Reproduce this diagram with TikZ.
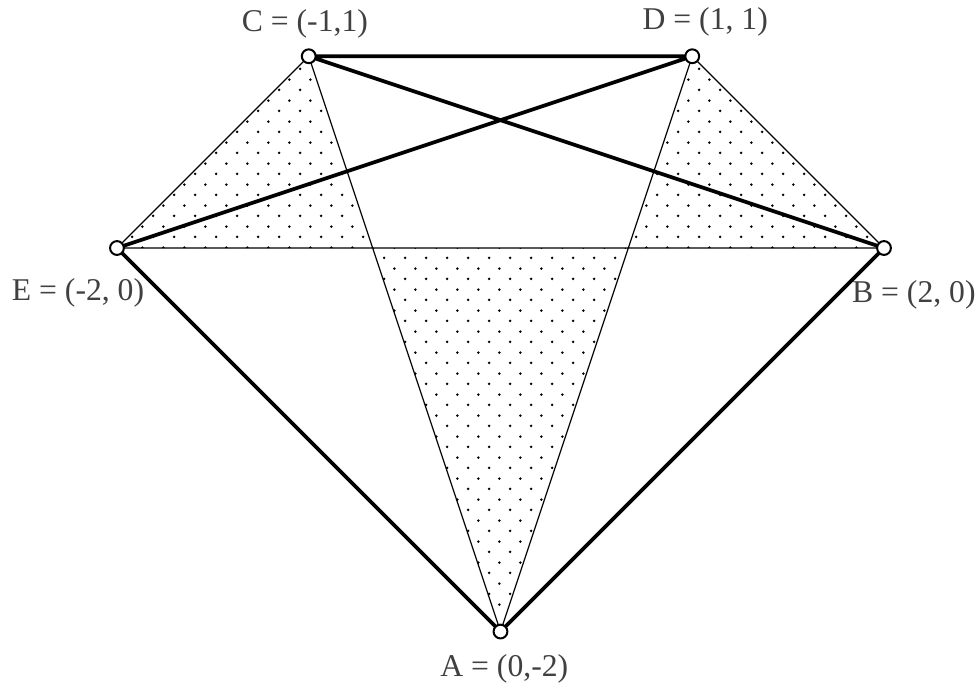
\documentclass[tikz,border=0pt]{standalone}
\usepackage{fontspec}
\setmainfont{Liberation Serif}
\usepackage{tikz}
\usetikzlibrary{patterns}

\pgfdeclarepatternformonly{sparsedots}{\pgfpointorigin}{\pgfpoint{6.3pt}{6.3pt}}{\pgfpoint{6.3pt}{6.3pt}}{%
  \pgfpathcircle{\pgfpoint{1.575pt}{1.575pt}}{0.45pt}%
  \pgfpathcircle{\pgfpoint{4.725pt}{4.725pt}}{0.45pt}%
  \pgfusepath{fill}%
}

\begin{document}
\begin{tikzpicture}[x=2cm, y=2cm,
  thinedge/.style={line width=0.35pt},
  thickedge/.style={line width=1.1pt},
  vertex/.style={draw, circle, fill=white, inner sep=0pt, minimum size=4.1pt, line width=0.6pt},
  lbl/.style={text=black!75, font=\fontsize{9.4}{11}\selectfont}]
  \useasboundingbox (-2.61,-2.2686) rectangle (2.485,1.2934);
  \coordinate (A) at (0,-2);
  \coordinate (B) at (2,0);
  \coordinate (C) at (-1,1);
  \coordinate (D) at (1,1);
  \coordinate (E) at (-2,0);
  \fill[pattern=sparsedots, even odd rule] (E) -- (C) -- (A) -- (D) -- (B) -- cycle;
  \draw[thinedge] (E) -- (C) -- (A) -- (D) -- (B) -- cycle;
  \draw[thickedge] (C) -- (D) (C) -- (B) (D) -- (E) (E) -- (A) -- (B);
  \foreach \v in {A,B,C,D,E}
    \node[vertex] (v\v) at (\v) {};
  \node[lbl] (labC) at (-1.02,1.17) {C = (-1,1)};
  \node[lbl] (labD) at (1.068,1.177) {D = (1, 1)};
  \node[lbl] (labE) at (-2.203,-0.235) {E = (-2, 0)};
  \node[lbl] (labB) at (2.156,-0.245) {B = (2, 0)};
  \node[lbl] (labA) at (0.02,-2.193) {A = (0,-2)};
\end{tikzpicture}
\end{document}
